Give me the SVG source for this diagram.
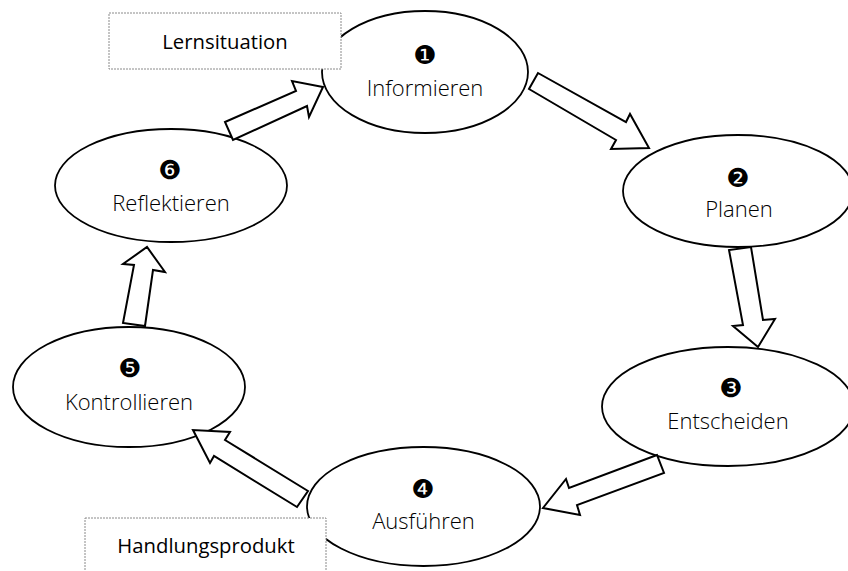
<svg xmlns="http://www.w3.org/2000/svg" width="848" height="571" viewBox="0 0 848 571">
<style>
.node ellipse{fill:#fff;stroke:#000;stroke-width:1.8}
.lbl{font-family:"Open Sans","Noto Sans","Liberation Sans",sans-serif;font-weight:300;font-size:22px;fill:#000;text-anchor:middle}
.num{font-family:"DejaVu Sans",sans-serif;font-size:26px;fill:#000;text-anchor:middle;dominant-baseline:central}
.arrow{fill:#fff;stroke:#000;stroke-width:2;stroke-linejoin:miter}
.box rect{fill:#fff;stroke:#8a8a8a;stroke-width:1;stroke-dasharray:2 1}
.blbl{font-family:"Open Sans","Noto Sans","Liberation Sans",sans-serif;font-size:20.3px;fill:#000;text-anchor:middle}
</style>
<rect width="848" height="571" fill="#fff"/>
<g id="n1" class="node"><ellipse cx="425" cy="72" rx="103" ry="61"/><text class="num" x="425" y="55">❶</text><text class="lbl" x="425" y="96">Informieren</text></g>
<g id="n2" class="node"><ellipse cx="738" cy="191" rx="115" ry="56"/><text class="num" x="738" y="178">❷</text><text class="lbl" x="739" y="217">Planen</text></g>
<g id="n3" class="node"><ellipse cx="728" cy="406.5" rx="126" ry="59.5"/><text class="num" x="731" y="388">❸</text><text class="lbl" x="728" y="429">Entscheiden</text></g>
<g id="n4" class="node"><ellipse cx="423.5" cy="506.5" rx="116.5" ry="59.5"/><text class="num" x="423" y="489">❹</text><text class="lbl" x="423.5" y="529">Ausführen</text></g>
<g id="n5" class="node"><ellipse cx="129" cy="387" rx="116" ry="60"/><text class="num" x="130" y="368">❺</text><text class="lbl" x="129" y="410">Kontrollieren</text></g>
<g id="n6" class="node"><ellipse cx="171" cy="185.5" rx="116" ry="56.5"/><text class="num" x="170" y="170">❻</text><text class="lbl" x="171" y="211">Reflektieren</text></g>
<g id="connectors">
<polygon class="arrow" points="225,122 296,91 292,81 323,87 309,117 307,106 233,140"/>
<polygon class="arrow" points="538,73 626,122 630,114 649,148 611,149 616,140 529,89"/>
<polygon class="arrow" points="729,250 743,325 733,326 758,347 775,319 763,320 751,247"/>
<polygon class="arrow" points="657,455 569,488 566,479 543,508 580,515 577,505 664,473"/>
<polygon class="arrow" points="308,491 225,440 230,432 193,430 210,463 214,456 297,507"/>
<polygon class="arrow" points="123,323 134,265 123,264 147,247 165,272 153,270 145,326"/>
</g>
<g id="box-lernsituation" class="box"><rect x="109" y="13" width="232" height="56"/><text class="blbl" x="225" y="49">Lernsituation</text></g>
<g id="box-handlungsprodukt" class="box"><rect x="85" y="518" width="241" height="58"/><text class="blbl" x="206" y="553">Handlungsprodukt</text></g>
</svg>
